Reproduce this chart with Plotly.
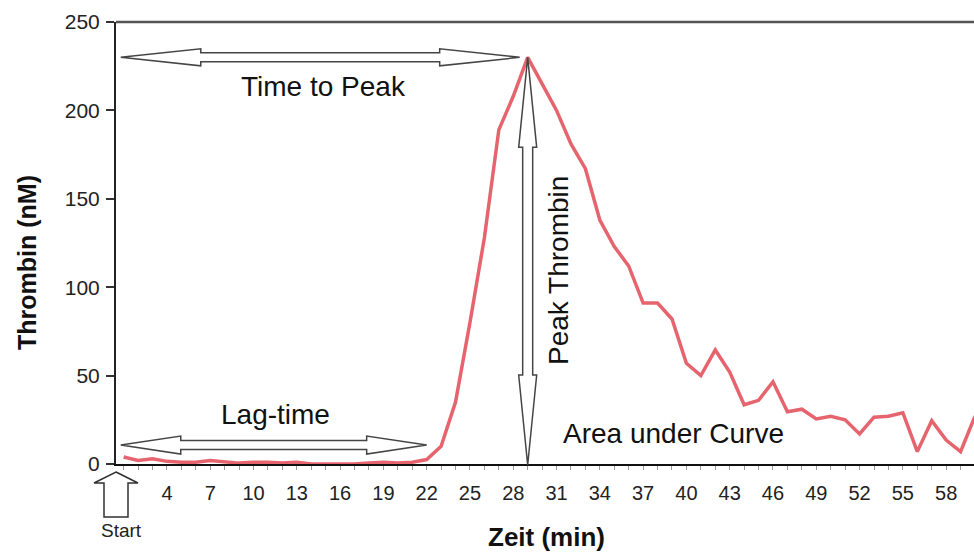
import plotly.graph_objects as go

# ---------------- data ----------------
time_min = list(range(1, 61))
thrombin_nM = [4, 2, 3, 1.5, 1, 1, 2, 1, 0.5, 1, 1, 0.5, 1, 0, 0, 0, 0, 0.5, 1, 0.5,
               1, 2.5, 10, 35, 80, 128, 189, 208, 230, 215, 200, 181, 167, 138, 123, 112,
               91, 91, 82, 57, 50, 64.5, 52, 33.5, 36, 46.5, 29.5, 31, 25.5, 27, 25, 17,
               26.5, 27, 29, 7, 24.5, 13.5, 7, 27]
x_tick_vals = list(range(1, 61))
x_tick_labels = [str(t) if (t - 1) % 3 == 0 and t > 1 else "" for t in x_tick_vals]
y_tick_vals = [0, 50, 100, 150, 200, 250]
lag_time = 22
lag_arrow_level = 10.7
arrow_start_time = 0.8

# ---------------- layout geometry ----------------
W, H = 974, 554
ML, MR, MT, MB = 116, 0, 22, 90
PW, PH = W - ML - MR, H - MT - MB
X_RANGE = [0.47, 59.93]
Y_RANGE = [0, 250]


def px_x(t):
    return ML + (t - X_RANGE[0]) / (X_RANGE[1] - X_RANGE[0]) * PW


def px_y(v):
    return MT + (Y_RANGE[1] - v) / (Y_RANGE[1] - Y_RANGE[0]) * PH


def to_paper(px, py):
    return (px - ML) / PW, (H - MB - py) / PH


def path_from_px(points):
    pts = [to_paper(a, b) for a, b in points]
    return "M " + " L ".join(f"{a:.5f},{b:.5f}" for a, b in pts) + " Z"


def h_double_arrow(xa, xb, y, hl, hh, sh):
    return [(xa, y), (xa + hl, y - hh), (xa + hl, y - sh), (xb - hl, y - sh),
            (xb - hl, y - hh), (xb, y), (xb - hl, y + hh), (xb - hl, y + sh),
            (xa + hl, y + sh), (xa + hl, y + hh)]


def v_double_arrow(x, ya, yb, hl, hh, sh):
    # ya top tip, yb bottom tip (pixel coords, ya < yb)
    return [(x, ya), (x + hh, ya + hl), (x + sh, ya + hl), (x + sh, yb - hl),
            (x + hh, yb - hl), (x, yb), (x - hh, yb - hl), (x - sh, yb - hl),
            (x - sh, ya + hl), (x - hh, ya + hl)]


def up_arrow(cx, tip, head_base, bottom, hw, sw):
    return [(cx, tip), (cx + hw, head_base), (cx + sw, head_base), (cx + sw, bottom),
            (cx - sw, bottom), (cx - sw, head_base), (cx - hw, head_base)]


peak_idx = thrombin_nM.index(max(thrombin_nM))
t_peak = time_min[peak_idx]
v_peak = thrombin_nM[peak_idx]

ARROW_LINE = dict(color="#454545", width=1.5)

shapes = []
# Time to Peak arrow
shapes.append(dict(type="path", xref="paper", yref="paper", layer="above",
                   path=path_from_px(h_double_arrow(px_x(arrow_start_time), px_x(t_peak) - 8,
                                                    px_y(v_peak), 80, 8.5, 4.5)),
                   line=ARROW_LINE, fillcolor="white"))
# Lag-time arrow
shapes.append(dict(type="path", xref="paper", yref="paper", layer="above",
                   path=path_from_px(h_double_arrow(px_x(arrow_start_time), px_x(lag_time),
                                                    px_y(lag_arrow_level), 60, 9, 4.5)),
                   line=ARROW_LINE, fillcolor="white"))
# Peak Thrombin arrow
shapes.append(dict(type="path", xref="paper", yref="paper", layer="above",
                   path=path_from_px(v_double_arrow(px_x(t_peak), px_y(v_peak), px_y(0) + 1,
                                                    90, 9, 5)),
                   line=ARROW_LINE, fillcolor="white"))
# Start arrow
shapes.append(dict(type="path", xref="paper", yref="paper", layer="above",
                   path=path_from_px(up_arrow(px_x(X_RANGE[0]), 472, 483, 517, 22, 12)),
                   line=dict(color="#303030", width=1.5), fillcolor="white"))
# top frame line
shapes.append(dict(type="line", xref="paper", yref="paper", x0=0, x1=1, y0=1, y1=1,
                   line=dict(color="#555555", width=2.5)))

FONT = "Arial, Liberation Sans, sans-serif"


def ann(text, px, py, size, bold=False, angle=0, color="#111111"):
    x, y = to_paper(px, py)
    return dict(text=f"<b>{text}</b>" if bold else text, x=x, y=y, xref="paper", yref="paper",
                showarrow=False, xanchor="center", yanchor="middle", textangle=angle,
                font=dict(family=FONT, size=size, color=color))


annotations = [
    ann("Time to Peak", 323, 86, 28),
    ann("Lag-time", 275, 414, 28),
    ann("Area under Curve", 673, 433, 28),
    ann("Peak Thrombin", 558, 271, 28, angle=-90),
    ann("Thrombin (nM)", 27, 263, 25, bold=True, angle=-90),
    ann("Zeit (min)", 546, 537, 26, bold=True),
    ann("Start", 121, 530, 19, color="#222222"),
]

fig = go.Figure()
fig.add_trace(go.Scatter(x=time_min, y=thrombin_nM, mode="lines",
                         line=dict(color="#e5646e", width=3.5), showlegend=False,
                         cliponaxis=True))

fig.update_layout(
    width=W, height=H,
    margin=dict(l=ML, r=MR, t=MT, b=MB),
    paper_bgcolor="white", plot_bgcolor="white",
    shapes=shapes, annotations=annotations,
    xaxis=dict(range=X_RANGE, tickmode="array", tickvals=x_tick_vals, ticktext=x_tick_labels,
               showgrid=False, zeroline=False, showline=True, linecolor="#111111", linewidth=2,
               ticks="outside", ticklen=4, tickwidth=1, tickcolor="#9a9a9a",
               ticklabelstandoff=6,
               tickfont=dict(family=FONT, size=20, color="#222222")),
    yaxis=dict(range=Y_RANGE, tickvals=y_tick_vals, showgrid=False, zeroline=False,
               showline=True, linecolor="#222222", linewidth=2,
               ticks="outside", ticklen=8, tickwidth=2, tickcolor="#333333",
               ticklabelstandoff=2,
               tickfont=dict(family=FONT, size=21, color="#222222")),
)

fig.write_html("out.html", config={"displayModeBar": False},
               post_script="document.body.style.margin='0px';document.body.style.overflow='hidden';")
